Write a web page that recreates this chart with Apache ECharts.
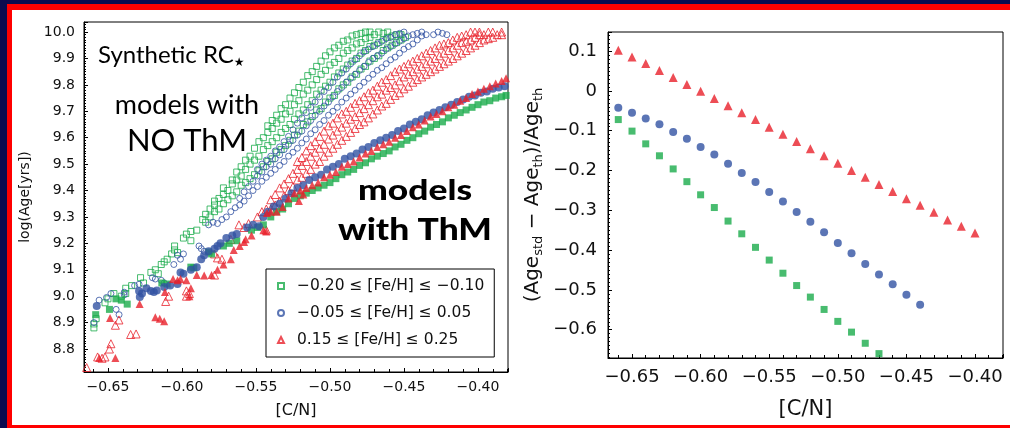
<!DOCTYPE html>
<html>
<head>
<meta charset="utf-8">
<script src="https://cdn.jsdelivr.net/npm/echarts@6/dist/echarts.min.js"></script>
<style>
  html, body { margin: 0; padding: 0; background: #0b0b4f; }
  #chart { width: 1010px; height: 428px; }
</style>
</head>
<body>
<div id="chart"></div>
<script>
// ---------- Left panel: synthetic red-clump stars, log(Age) vs [C/N] ----------
// Rows are [C/N, log(Age) values...] for the models without thermohaline mixing (open symbols).
const greenNoThm = [
  [-0.6595,8.88,8.895],[-0.658,8.915],[-0.652,8.975],[-0.650,8.99],[-0.646,9.01],[-0.641,9.00],
  [-0.638,9.03,9.01],[-0.634,9.04],[-0.628,9.07],[-0.626,9.05],[-0.621,9.09],[-0.618,9.10],
  [-0.616,9.085],[-0.614,9.12],[-0.612,9.13],[-0.610,9.14],[-0.607,9.16],[-0.605,9.19,9.175],
  [-0.603,9.165],[-0.599,9.22],[-0.597,9.235],[-0.594,9.245,9.21],[-0.590,9.25],[-0.586,9.29],
  [-0.584,9.28,9.31],[-0.581,9.30,9.33],[-0.578,9.32,9.345,9.36],[-0.575,9.33,9.37],
  [-0.572,9.35,9.385,9.41],[-0.569,9.365,9.40],[-0.566,9.38,9.425,9.44],[-0.563,9.395,9.44,9.47],
  [-0.560,9.42,9.455,9.49],[-0.557,9.43,9.48,9.515],[-0.554,9.445,9.50,9.53],[-0.551,9.46,9.515,9.56],
  [-0.548,9.475,9.53,9.585],[-0.545,9.49,9.555,9.60],[-0.542,9.51,9.57,9.62,9.645],
  [-0.539,9.52,9.585,9.635,9.665],[-0.536,9.545,9.60,9.655,9.685],[-0.533,9.555,9.62,9.67,9.71],
  [-0.530,9.57,9.635,9.69,9.725],[-0.527,9.59,9.65,9.70,9.75],[-0.524,9.61,9.67,9.725,9.77],
  [-0.521,9.625,9.69,9.74,9.79],[-0.518,9.65,9.705,9.765,9.81],[-0.515,9.66,9.725,9.78,9.835],
  [-0.512,9.68,9.74,9.80,9.85],[-0.509,9.705,9.765,9.82,9.87],[-0.506,9.71,9.78,9.84,9.89],
  [-0.503,9.735,9.795,9.855,9.91],[-0.500,9.75,9.81,9.875,9.925],[-0.497,9.76,9.83,9.885,9.94],
  [-0.494,9.785,9.845,9.90,9.95],[-0.491,9.80,9.86,9.92,9.965],[-0.488,9.81,9.875,9.93,9.97],
  [-0.485,9.83,9.89,9.94,9.985],[-0.482,9.84,9.90,9.955,9.99],[-0.479,9.86,9.92,9.96,9.995],
  [-0.476,9.87,9.93,9.975,10.0],[-0.473,9.89,9.945,9.98,10.0],[-0.470,9.90,9.95,9.99],
  [-0.467,9.91,9.96,10.0],[-0.464,9.93,9.97,9.995],[-0.461,9.94,9.98,10.0],[-0.458,9.95,9.985],
  [-0.455,9.96,9.99],[-0.452,9.97,9.99],[-0.449,9.98]
];
const blueNoThm = [
  [-0.6595,8.90],[-0.656,8.985],[-0.651,8.995],[-0.648,9.01],[-0.6445,8.95],[-0.6425,8.93],
  [-0.639,9.015,9.005],[-0.632,9.04],[-0.629,9.045],[-0.620,9.07],[-0.618,9.065],[-0.614,9.06],
  [-0.612,9.05],[-0.6055,9.12],[-0.603,9.155],[-0.601,9.14],[-0.599,9.16],[-0.5885,9.19],
  [-0.587,9.18],[-0.585,9.17],[-0.582,9.27],[-0.579,9.28],[-0.576,9.275],[-0.573,9.29],
  [-0.570,9.30],[-0.567,9.32],[-0.564,9.335],[-0.561,9.345,9.37],[-0.558,9.36,9.395],
  [-0.555,9.38,9.415],[-0.552,9.40,9.435],[-0.549,9.415,9.455,9.48],[-0.546,9.435,9.47,9.50],
  [-0.543,9.45,9.49,9.515],[-0.540,9.465,9.50,9.53],[-0.537,9.48,9.52,9.55],[-0.534,9.495,9.535,9.565],
  [-0.531,9.51,9.555,9.585],[-0.528,9.53,9.575,9.605],[-0.525,9.545,9.59,9.63],[-0.522,9.56,9.61,9.655],
  [-0.519,9.58,9.625,9.675],[-0.516,9.595,9.645,9.695],[-0.513,9.615,9.665,9.715],[-0.510,9.63,9.685,9.735],
  [-0.507,9.65,9.70,9.755],[-0.504,9.665,9.72,9.775],[-0.501,9.685,9.735,9.79],[-0.498,9.70,9.755,9.81],
  [-0.495,9.715,9.775,9.83],[-0.492,9.735,9.79,9.845],[-0.489,9.75,9.81,9.86],[-0.486,9.765,9.825,9.88],
  [-0.483,9.78,9.84,9.895],[-0.480,9.795,9.855,9.91],[-0.477,9.81,9.87,9.925],[-0.474,9.825,9.885,9.935],
  [-0.471,9.84,9.90,9.945],[-0.468,9.855,9.91,9.955],[-0.465,9.865,9.92,9.965],[-0.462,9.88,9.935,9.975],
  [-0.459,9.895,9.945,9.98],[-0.456,9.905,9.955,9.99],[-0.453,9.92,9.965,9.995],[-0.450,9.935,9.975,10.0],
  [-0.447,9.945,9.985],[-0.444,9.955,9.99],[-0.441,9.97,9.995],[-0.438,9.985,10.0],[-0.435,9.99],
  [-0.430,9.99],[-0.427,10.0],[-0.424,9.995],[-0.421,9.99]
];
const redNoThm = [
  [-0.6644,8.73],[-0.657,8.77],[-0.654,8.765],[-0.652,8.77],[-0.649,8.80],[-0.648,8.82],
  [-0.645,8.89],[-0.6426,8.91],[-0.6347,8.855],[-0.631,8.857],[-0.611,8.98],[-0.609,9.00],
  [-0.597,9.00,9.02],[-0.595,9.01],[-0.578,9.08,9.16],[-0.576,9.145],[-0.573,9.14],[-0.567,9.215],
  [-0.5615,9.27],[-0.558,9.26],[-0.555,9.275],[-0.549,9.30],[-0.546,9.32],[-0.543,9.25,9.33],
  [-0.540,9.33,9.365],[-0.537,9.345,9.385],[-0.534,9.36,9.41],[-0.531,9.38,9.425],[-0.528,9.40,9.445],
  [-0.525,9.415,9.465],[-0.522,9.44,9.48,9.51],[-0.519,9.45,9.495,9.525],[-0.516,9.465,9.51,9.55],
  [-0.513,9.48,9.53,9.57],[-0.510,9.50,9.545,9.585],[-0.507,9.51,9.56,9.605],[-0.504,9.53,9.575,9.625],
  [-0.501,9.545,9.595,9.645],[-0.498,9.56,9.61,9.655],[-0.495,9.575,9.625,9.675],[-0.492,9.59,9.64,9.69],
  [-0.489,9.605,9.655,9.70],[-0.486,9.62,9.67,9.715],[-0.483,9.635,9.68,9.73],[-0.480,9.65,9.695,9.74],
  [-0.477,9.66,9.71,9.755],[-0.474,9.675,9.725,9.77],[-0.471,9.69,9.74,9.78],[-0.468,9.705,9.755,9.795],
  [-0.465,9.72,9.765,9.81],[-0.462,9.73,9.78,9.82],[-0.459,9.745,9.79,9.835],[-0.456,9.76,9.80,9.85],
  [-0.453,9.77,9.815,9.86],[-0.450,9.785,9.83,9.87],[-0.447,9.795,9.84,9.88],[-0.444,9.81,9.85,9.89],
  [-0.441,9.82,9.86,9.90],[-0.438,9.83,9.87,9.91],[-0.435,9.84,9.88,9.92],[-0.432,9.85,9.89,9.93],
  [-0.429,9.86,9.90,9.94],[-0.426,9.87,9.91,9.95],[-0.423,9.88,9.92,9.955],[-0.420,9.89,9.93,9.96],
  [-0.417,9.90,9.94,9.97],[-0.414,9.91,9.95,9.98],[-0.411,9.92,9.96,9.985],[-0.408,9.93,9.965,9.99],
  [-0.405,9.94,9.97,10.0],[-0.402,9.95,9.98,10.0],[-0.399,9.96,9.99,10.0],[-0.396,9.97,9.99],
  [-0.393,9.975,10.0],[-0.390,9.98,10.0],[-0.387,9.99],[-0.384,9.99,10.0]
];

// [C/N, log(Age)] pairs for the models with thermohaline mixing (filled symbols).
const greenThm = [
  [-0.6583,8.93],[-0.649,8.95],[-0.6446,8.99],[-0.641,8.985],[-0.637,8.97],[-0.6136,9.05],[-0.610,9.046],
  [-0.594,9.11],[-0.592,9.107],[-0.582,9.167],[-0.580,9.16],[-0.572,9.19],[-0.568,9.20],[-0.563,9.21],
  [-0.553,9.25],[-0.549,9.26],[-0.545,9.27],[-0.540,9.30],[-0.536,9.32],[-0.532,9.33],[-0.528,9.35],
  [-0.524,9.37],[-0.520,9.38],[-0.516,9.39],[-0.512,9.40],[-0.508,9.41],[-0.504,9.42],[-0.500,9.43],
  [-0.496,9.445],[-0.492,9.46],[-0.488,9.47],[-0.484,9.48],[-0.480,9.495],[-0.476,9.505],[-0.472,9.52],
  [-0.468,9.53],[-0.464,9.54],[-0.460,9.55],[-0.456,9.565],[-0.452,9.575],[-0.448,9.59],[-0.444,9.60],
  [-0.440,9.615],[-0.436,9.625],[-0.432,9.64],[-0.428,9.65],[-0.424,9.66],[-0.420,9.675],[-0.416,9.685],
  [-0.412,9.695],[-0.408,9.705],[-0.404,9.715],[-0.400,9.725],[-0.396,9.735],[-0.392,9.74],[-0.388,9.75],
  [-0.384,9.755],[-0.381,9.76]
];
const blueThm = [
  [-0.6576,8.963],[-0.629,9.02],[-0.6285,8.997],[-0.627,9.01],[-0.624,9.03],[-0.621,9.02],[-0.619,9.016],
  [-0.617,9.022],[-0.612,9.035],[-0.608,9.04],[-0.603,9.046],[-0.601,9.09],[-0.599,9.085],[-0.594,9.10],
  [-0.590,9.11],[-0.587,9.14],[-0.585,9.155],[-0.582,9.17],[-0.578,9.18],[-0.576,9.19],[-0.574,9.20],
  [-0.570,9.22],[-0.566,9.23],[-0.563,9.235],[-0.556,9.26],[-0.552,9.27],[-0.548,9.265],[-0.545,9.30],
  [-0.542,9.32],[-0.538,9.34],[-0.534,9.35],[-0.530,9.37],[-0.526,9.39],[-0.522,9.41],[-0.518,9.42],
  [-0.514,9.44],[-0.510,9.45],[-0.506,9.46],[-0.502,9.48],[-0.498,9.49],[-0.494,9.50],[-0.490,9.52],
  [-0.486,9.53],[-0.482,9.54],[-0.478,9.555],[-0.474,9.565],[-0.470,9.58],[-0.466,9.59],[-0.462,9.60],
  [-0.458,9.61],[-0.454,9.625],[-0.450,9.635],[-0.446,9.65],[-0.442,9.66],[-0.438,9.67],[-0.434,9.685],
  [-0.430,9.695],[-0.426,9.705],[-0.422,9.715],[-0.418,9.725],[-0.414,9.735],[-0.410,9.745],[-0.406,9.755],
  [-0.402,9.76],[-0.398,9.77],[-0.394,9.775],[-0.390,9.785],[-0.386,9.79],[-0.382,9.795]
];
const redThm = [
  [-0.656,8.766],[-0.645,8.766],[-0.6486,8.917],[-0.6286,8.97],[-0.618,8.92],[-0.615,8.915],[-0.612,8.905],
  [-0.6115,9.016],[-0.606,9.065],[-0.603,9.06],[-0.601,9.065],[-0.597,9.06],[-0.595,9.0],[-0.594,9.03],
  [-0.590,9.08],[-0.585,9.078],[-0.580,9.08],[-0.576,9.10],[-0.572,9.12],[-0.567,9.14],[-0.565,9.175],
  [-0.561,9.19],[-0.558,9.205],[-0.557,9.216],[-0.553,9.23],[-0.545,9.25],[-0.543,9.245],[-0.5426,9.315],
  [-0.540,9.32],[-0.536,9.32],[-0.532,9.338],[-0.528,9.37],[-0.524,9.39],[-0.521,9.36],[-0.520,9.40],
  [-0.518,9.385],[-0.516,9.41],[-0.512,9.42],[-0.508,9.43],[-0.504,9.45],[-0.500,9.46],[-0.496,9.47],
  [-0.492,9.49],[-0.488,9.50],[-0.484,9.51],[-0.480,9.525],[-0.476,9.54],[-0.472,9.55],[-0.468,9.565],
  [-0.464,9.575],[-0.460,9.585],[-0.456,9.60],[-0.452,9.61],[-0.448,9.625],[-0.444,9.64],[-0.440,9.65],
  [-0.436,9.665],[-0.432,9.68],[-0.428,9.69],[-0.424,9.70],[-0.420,9.715],[-0.416,9.725],[-0.412,9.74],
  [-0.408,9.75],[-0.404,9.765],[-0.400,9.775],[-0.396,9.785],[-0.392,9.795],[-0.388,9.805],[-0.384,9.815],
  [-0.381,9.825]
];

// ---------- Right panel: relative age difference vs [C/N] ----------
const cnSteps = [-0.66,-0.65,-0.64,-0.63,-0.62,-0.61,-0.60,-0.59,-0.58,-0.57,-0.56,-0.55,-0.54,-0.53,
                 -0.52,-0.51,-0.50,-0.49,-0.48,-0.47,-0.46,-0.45,-0.44,-0.43,-0.42,-0.41,-0.40];
const devRed = [0.102,0.085,0.069,0.051,0.034,0.016,-0.001,-0.019,-0.037,-0.055,-0.072,-0.091,-0.109,-0.127,
                -0.145,-0.163,-0.182,-0.200,-0.217,-0.235,-0.253,-0.271,-0.287,-0.305,-0.324,-0.340,-0.357];
const devBlue = [-0.042,-0.055,-0.069,-0.084,-0.103,-0.120,-0.141,-0.160,-0.183,-0.206,-0.229,-0.254,-0.278,
                 -0.304,-0.329,-0.355,-0.382,-0.408,-0.435,-0.461,-0.486,-0.512,-0.537];
const devGreen = [-0.072,-0.101,-0.133,-0.163,-0.196,-0.228,-0.261,-0.293,-0.327,-0.359,-0.393,-0.425,-0.458,
                  -0.489,-0.518,-0.549,-0.579,-0.606,-0.634,-0.660];

const legendNames = ['\u22120.20 \u2264 [Fe/H] \u2264 \u22120.10', '\u22120.05 \u2264 [Fe/H] \u2264 0.05', '0.15 \u2264 [Fe/H] \u2264 0.25'];

// ---------- styling ----------
const GREEN = '#1aab4b', BLUE = '#3252a3', RED = '#e8212b';
const AXFONT = 'DejaVu Sans';
const TXFONT = 'Lato';

const rowsToPoints = rows => rows.flatMap(r => r.slice(1).map(y => [r[0], y]));
const zip = (xs, ys) => ys.map((y, i) => [xs[i], y]);
const minus = s => s.replace('-', '\u2212');
const onStep = (v, step) => Math.abs(v / step - Math.round(v / step)) < 1e-6;

function xAxis(gridIndex, min, max, fs, margin, nameFs, nameGap) {
  return {
    type: 'value', gridIndex, min, max, splitNumber: 6, minInterval: 0.05, maxInterval: 0.05,
    axisLine: { show: true, onZero: false, lineStyle: { color: '#000', width: 1 } },
    axisTick: { show: true, inside: true, length: 4, lineStyle: { color: '#000' } },
    minorTick: { show: true, splitNumber: 5, length: 3, lineStyle: { color: '#000' } },
    splitLine: { show: false }, minorSplitLine: { show: false },
    axisLabel: {
      margin, fontSize: fs, fontFamily: AXFONT, color: '#111', hideOverlap: false,
      formatter: v => onStep(v, 0.05) ? minus(v.toFixed(2)) : ''
    },
    name: '[C/N]', nameLocation: 'middle', nameGap,
    nameTextStyle: { fontSize: nameFs, fontFamily: AXFONT, color: '#111' }
  };
}
function yAxis(gridIndex, min, max, fs, margin, fmt) {
  return {
    type: 'value', gridIndex, min, max, splitNumber: 10, minInterval: 0.1, maxInterval: 0.1,
    axisLine: { show: true, onZero: false, lineStyle: { color: '#000', width: 1 } },
    axisTick: { show: true, inside: true, length: 4, lineStyle: { color: '#000' } },
    minorTick: { show: true, splitNumber: 10, length: 2, lineStyle: { color: '#000' } },
    splitLine: { show: false }, minorSplitLine: { show: false },
    axisLabel: {
      margin, fontSize: fs, fontFamily: AXFONT, color: '#111', hideOverlap: false,
      formatter: v => onStep(v, 0.1) ? fmt(v) : ''
    }
  };
}

const openStyle = c => ({ color: 'rgba(255,255,255,0)', borderColor: c, borderWidth: 1 });

const leftY = yAxis(0, 8.713, 10.038, 14, 9, v => v.toFixed(1));
leftY.name = 'log(Age[yrs])';
leftY.nameLocation = 'middle';
leftY.nameGap = 52;
leftY.nameTextStyle = { fontSize: 14, fontFamily: AXFONT, color: '#111' };

const rightY = yAxis(1, -0.671, 0.148, 18, 11, v => (Math.abs(v) < 1e-9 ? '0' : minus(v.toFixed(1))));
rightY.name = '{m|(Age}{s|std}{m| \u2212 Age}{s|th}{m|)/Age}{s|th}';
rightY.nameLocation = 'middle';
rightY.nameGap = 63;
rightY.nameTextStyle = {
  fontFamily: AXFONT, color: '#111',
  rich: {
    m: { fontSize: 20, fontFamily: AXFONT, color: '#111', lineHeight: 24 },
    s: { fontSize: 13, fontFamily: AXFONT, color: '#111', lineHeight: 12, verticalAlign: 'bottom' }
  }
};

const chart = echarts.init(document.getElementById('chart'), null, { renderer: 'canvas' });
chart.setOption({
  animation: false,
  backgroundColor: '#0b0b4f',
  textStyle: { fontFamily: AXFONT },
  grid: [
    { left: 84, top: 22, width: 424, height: 350, show: true, borderColor: '#000', borderWidth: 1,
      backgroundColor: 'rgba(0,0,0,0)', containLabel: false, outerBoundsMode: 'none' },
    { left: 608, top: 32, width: 395, height: 326, show: true, borderColor: '#000', borderWidth: 1,
      backgroundColor: 'rgba(0,0,0,0)', containLabel: false, outerBoundsMode: 'none' }
  ],
  xAxis: [
    xAxis(0, -0.6662, -0.3797, 14, 8, 16, 31),
    xAxis(1, -0.6675, -0.3796, 18, 10, 21, 41)
  ],
  yAxis: [leftY, rightY],
  legend: {
    data: legendNames, orient: 'vertical', left: 266, top: 269,
    padding: [8, 10, 8, 11], itemGap: 9, itemWidth: 6, itemHeight: 6,
    borderColor: '#000', borderWidth: 1, backgroundColor: '#fff', selectedMode: false,
    textStyle: { fontFamily: AXFONT, fontSize: 15.5, color: '#111', lineHeight: 18, padding: [0, 0, 0, 8] }
  },
  graphic: [
    { type: 'rect', z: -10, silent: true, shape: { x: 7, y: 4, width: 1003, height: 424 }, style: { fill: '#ff0000' } },
    { type: 'rect', z: -9, silent: true, shape: { x: 12, y: 10, width: 998, height: 415 }, style: { fill: '#ffffff' } },
    { type: 'text', z: 100, silent: true, x: 98, y: 55,
      style: { text: '{a|Synthetic RC}{s|\u2605}', verticalAlign: 'middle', fill: '#000',
        rich: { a: { fontFamily: TXFONT, fontSize: 24, fill: '#000', lineHeight: 28 },
                s: { fontFamily: AXFONT, fontSize: 12, fill: '#000', lineHeight: 12, verticalAlign: 'bottom' } } } },
    { type: 'text', z: 100, silent: true, x: 187, y: 105,
      style: { text: 'models with', font: '27px Lato', fill: '#000', align: 'center', verticalAlign: 'middle' } },
    { type: 'text', z: 100, silent: true, x: 187, y: 141,
      style: { text: 'NO ThM', font: '31px Lato', fill: '#000', align: 'center', verticalAlign: 'middle' } },
    { type: 'text', z: 100, silent: true, x: 415, y: 191, scaleX: 1.22,
      style: { text: 'models', font: '900 29px Lato', fill: '#000', align: 'center', verticalAlign: 'middle' } },
    { type: 'text', z: 100, silent: true, x: 415, y: 230, scaleX: 1.14,
      style: { text: 'with ThM', font: '900 31px Lato', fill: '#000', align: 'center', verticalAlign: 'middle' } }
  ],
  series: [
    { name: legendNames[0], type: 'scatter', xAxisIndex: 0, yAxisIndex: 0, symbol: 'rect', symbolSize: 6,
      itemStyle: openStyle(GREEN), data: rowsToPoints(greenNoThm), silent: true },
    { name: legendNames[1], type: 'scatter', xAxisIndex: 0, yAxisIndex: 0, symbol: 'circle', symbolSize: 6,
      itemStyle: openStyle(BLUE), data: rowsToPoints(blueNoThm), silent: true },
    { name: legendNames[2], type: 'scatter', xAxisIndex: 0, yAxisIndex: 0, symbol: 'triangle', symbolSize: 8,
      itemStyle: openStyle(RED), data: rowsToPoints(redNoThm), silent: true },
    { name: 'ThM low', type: 'scatter', xAxisIndex: 0, yAxisIndex: 0, symbol: 'rect', symbolSize: 7,
      itemStyle: { color: GREEN }, data: greenThm, silent: true },
    { name: 'ThM solar', type: 'scatter', xAxisIndex: 0, yAxisIndex: 0, symbol: 'circle', symbolSize: 8,
      itemStyle: { color: BLUE }, data: blueThm, silent: true },
    { name: 'ThM high', type: 'scatter', xAxisIndex: 0, yAxisIndex: 0, symbol: 'triangle', symbolSize: 8,
      itemStyle: { color: RED }, data: redThm, silent: true },
    { name: 'dev low', type: 'scatter', xAxisIndex: 1, yAxisIndex: 1, symbol: 'rect', symbolSize: 7,
      itemStyle: { color: GREEN }, data: zip(cnSteps, devGreen), silent: true },
    { name: 'dev solar', type: 'scatter', xAxisIndex: 1, yAxisIndex: 1, symbol: 'circle', symbolSize: 8,
      itemStyle: { color: BLUE }, data: zip(cnSteps, devBlue), silent: true },
    { name: 'dev high', type: 'scatter', xAxisIndex: 1, yAxisIndex: 1, symbol: 'triangle', symbolSize: 9,
      itemStyle: { color: RED }, data: zip(cnSteps, devRed), silent: true }
  ]
});
</script>
</body>
</html>
